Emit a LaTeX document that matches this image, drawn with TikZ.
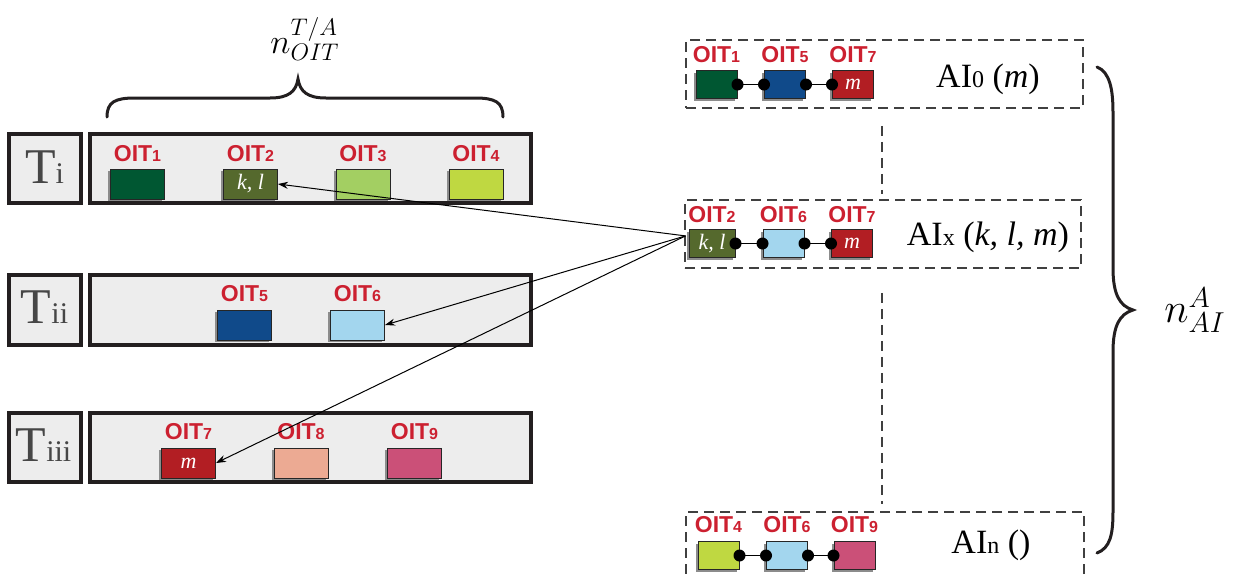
\documentclass[tikz,border=0pt]{standalone}
\usepackage{fontspec}
\setmainfont{Liberation Serif}
\newfontfamily\arialfont{Liberation Sans}
\usetikzlibrary{arrows.meta,shadows}
\definecolor{cA}{RGB}{0,87,50}
\definecolor{cB}{RGB}{85,105,45}
\definecolor{cC}{RGB}{163,207,98}
\definecolor{cD}{RGB}{191,216,65}
\definecolor{cE}{RGB}{16,74,138}
\definecolor{cF}{RGB}{163,214,238}
\definecolor{cG}{RGB}{178,30,35}
\definecolor{cH}{RGB}{236,170,147}
\definecolor{cI}{RGB}{203,80,120}
\definecolor{boxfill}{RGB}{237,237,237}
\definecolor{boxc}{RGB}{35,31,32}
\definecolor{labred}{RGB}{204,32,48}
\definecolor{tgray}{RGB}{70,70,70}
\newcommand\oitn[1]{OIT{\fontsize{8}{9}\selectfont #1}}
\newcommand\tlab[1]{{\fontsize{25}{26}\selectfont T}{\fontsize{15}{16}\selectfont #1}}
\newcommand\ailab[2]{{\fontsize{17}{18}\selectfont AI}{\fontsize{12}{13}\selectfont #1}{\fontsize{17}{18}\selectfont\ (#2)}}
\tikzset{
  tbox/.style={draw=boxc, line width=2pt, fill=boxfill},
  oit/.style={draw=black!85, line width=0.5pt, minimum width=27pt, minimum height=15pt, inner sep=0pt,
    drop shadow={shadow xshift=-1.2pt, shadow yshift=-1.2pt, fill=black!45, opacity=1}},
  oitsm/.style={oit, minimum width=20.5pt, minimum height=14pt},
  oitl/.style={text=labred, font=\arialfont\bfseries\fontsize{11.5}{12}\selectfont, inner sep=0pt},
  intext/.style={text=white, font=\itshape\fontsize{11}{12}\selectfont},
  ttext/.style={text=tgray, anchor=base, inner sep=0pt},
  aitext/.style={anchor=base, inner sep=0pt},
  aibox/.style={draw=black!75, line width=0.75pt, dash pattern=on 5pt off 3pt, inner sep=0pt},
  vdash/.style={draw=black!75, line width=0.75pt, dash pattern=on 5pt off 3pt},
  conn/.style={line width=0.6pt},
  dotn/.style={circle, fill=black, inner sep=0pt, minimum size=6pt},
  arr/.style={line width=0.5pt, -{Stealth[length=5pt,width=3.5pt]}},
  brc/.style={line width=1.5pt, line cap=round, draw=boxc},
  mathl/.style={inner sep=0pt}
}
\begin{document}
\begin{tikzpicture}[x=0.5pt,y=-0.5pt]
\useasboundingbox (0,0) rectangle (1244,579);

% ---------- left: tables ----------
\node[tbox, minimum width=36pt, minimum height=34.5pt, inner sep=0pt] (tiL) at (45,168.5) {};
\node[tbox, minimum width=220.5pt, minimum height=34.5pt, inner sep=0pt] (tiM) at (310.5,168.5) {};
\node[tbox, minimum width=36pt, minimum height=35pt, inner sep=0pt] (tiiL) at (45,310) {};
\node[tbox, minimum width=220.5pt, minimum height=35pt, inner sep=0pt] (tiiM) at (310.5,310) {};
\node[tbox, minimum width=36pt, minimum height=34.5pt, inner sep=0pt] (tiiiL) at (45,447.5) {};
\node[tbox, minimum width=220.5pt, minimum height=34.5pt, inner sep=0pt] (tiiiM) at (310.5,447.5) {};

\node[ttext] at (44.5,183) {\tlab{i}};
\node[ttext] at (44.5,323) {\tlab{ii}};
\node[ttext] at (43.5,461) {\tlab{iii}};

% Ti row
\node[oit, fill=cA] (t1) at (137.5,184) {};
\node[oit, fill=cB, intext] (t2) at (250.5,184) {k, l};
\node[oit, fill=cC] (t3) at (363,184) {};
\node[oit, fill=cD] (t4) at (476,184) {};
\node[oitl] at (137.5,154) {\oitn{1}};
\node[oitl] at (250.5,154) {\oitn{2}};
\node[oitl] at (363,154) {\oitn{3}};
\node[oitl] at (476,154) {\oitn{4}};
% Tii row
\node[oit, fill=cE] (t5) at (244.5,325) {};
\node[oit, fill=cF] (t6) at (357.5,325) {};
\node[oitl] at (244.5,294) {\oitn{5}};
\node[oitl] at (357.5,294) {\oitn{6}};
% Tiii row
\node[oit, fill=cG, intext] (t7) at (188.5,463) {m};
\node[oit, fill=cH] (t8) at (301,463) {};
\node[oit, fill=cI] (t9) at (414.5,463) {};
\node[oitl] at (188.5,432) {\oitn{7}};
\node[oitl] at (301,432) {\oitn{8}};
\node[oitl] at (414.5,432) {\oitn{9}};

% top brace
\draw[brc] (107,117) .. controls (107,102) and (115,98) .. (135,98) -- (270,98)
  .. controls (288,98) and (296,92) .. (298,79)
  .. controls (300,92) and (308,98) .. (326,98) -- (475,98)
  .. controls (495,98) and (503,102) .. (503,117);
\node[mathl] at (305,39) {\fontsize{18}{21}\selectfont $n^{T/A}_{OIT}$};

% ---------- right: AI sets ----------
\node[aibox, minimum width=198.5pt, minimum height=34pt] (ai0) at (884.5,74) {};
\node[aibox, minimum width=198pt, minimum height=34pt] (aix) at (883,234) {};
\node[aibox, minimum width=199pt, minimum height=40pt] (ain) at (885,552) {};

\coordinate (vx) at (882,0);
\draw[vdash, shorten <=8.5pt, shorten >=2.5pt] (ai0.south -| vx) -- (aix.north -| vx);
\draw[vdash, shorten <=12pt, shorten >=3.5pt] (aix.south -| vx) -- (ain.north -| vx);

% AI0
\node[oitsm, fill=cA] (a1) at (716.5,84.5) {};
\node[oitsm, fill=cE] (a5) at (785,84.5) {};
\node[oitsm, fill=cG, intext] (a7) at (853,84.5) {m};
\node[oitl] at (716.5,55) {\oitn{1}};
\node[oitl] at (785,55) {\oitn{5}};
\node[oitl] at (853,55) {\oitn{7}};
\draw[conn] (a1.east) -- (a5.west);
\draw[conn] (a5.east) -- (a7.west);
\node[dotn] at (a1.east) {};
\node[dotn] at (a5.west) {};
\node[dotn] at (a5.east) {};
\node[dotn] at (a7.west) {};
\node[aitext] at (988,87) {\ailab{0}{\textit{m}}};

% AIx
\node[oitsm, fill=cB, intext, minimum width=23pt] (x2) at (712,243.5) {k, l};
\node[oitsm, fill=cF] (x6) at (783.5,243.5) {};
\node[oitsm, fill=cG, intext] (x7) at (852,243.5) {m};
\node[oitl] at (712,215) {\oitn{2}};
\node[oitl] at (783.5,215) {\oitn{6}};
\node[oitl] at (852,215) {\oitn{7}};
\draw[conn] (x2.east) -- (x6.west);
\draw[conn] (x6.east) -- (x7.west);
\node[dotn] at (x2.east) {};
\node[dotn] at (x6.west) {};
\node[dotn] at (x6.east) {};
\node[dotn] at (x7.west) {};
\node[aitext] at (988,245) {\ailab{x}{\textit{k, l, m}}};

% AIn
\node[oitsm, fill=cD] (n4) at (718.5,555.5) {};
\node[oitsm, fill=cF] (n6) at (787,555.5) {};
\node[oitsm, fill=cI] (n9) at (854.5,555.5) {};
\node[oitl] at (718.5,525) {\oitn{4}};
\node[oitl] at (787,525) {\oitn{6}};
\node[oitl] at (854.5,525) {\oitn{9}};
\draw[conn] (n4.east) -- (n6.west);
\draw[conn] (n6.east) -- (n9.west);
\node[dotn] at (n4.east) {};
\node[dotn] at (n6.west) {};
\node[dotn] at (n6.east) {};
\node[dotn] at (n9.west) {};
\node[aitext] at (991,553) {\ailab{n}{}};

% right brace
\draw[brc] (1097,67) .. controls (1110,72) and (1113,90) .. (1113,112) -- (1113,268)
  .. controls (1113,295) and (1120,306) .. (1133,310)
  .. controls (1120,314) and (1113,325) .. (1113,352) -- (1113,512)
  .. controls (1113,535) and (1110,548) .. (1097,553);
\node[mathl] at (1195,310) {\fontsize{20.74}{24}\selectfont $n^{A}_{AI}$};

% arrows
\coordinate (src) at ([shift={(-1.5pt,3.8pt)}]x2.west);
\draw[arr] (src) -- (t2.east);
\draw[arr] (src) -- (t6.east);
\draw[arr] (src) -- (t7.east);
\end{tikzpicture}
\end{document}
